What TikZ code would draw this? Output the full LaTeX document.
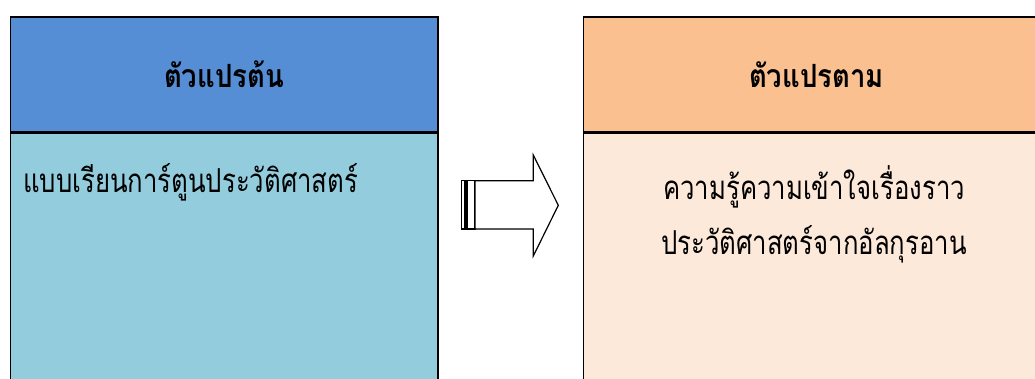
\documentclass[tikz,border=0pt]{standalone}
\usepackage{fontspec}
\newfontfamily\thaifont[Script=Thai, FakeStretch=0.78]{Loma}
\newfontfamily\thaihead[Script=Thai, FakeStretch=0.86]{Loma}
\usetikzlibrary{positioning}
\definecolor{headblue}{RGB}{85,142,213}
\definecolor{bodyblue}{RGB}{147,205,221}
\definecolor{headorange}{RGB}{250,192,144}
\definecolor{bodyorange}{RGB}{253,233,217}
\tikzset{
every node/.style={font=\thaifont\fontsize{33}{38}\selectfont}, % Thai text everywhere
headbox/.style={draw, line width=1.6pt, inner sep=0pt, minimum height=115pt, font=\thaihead\bfseries\fontsize{32}{38}\selectfont}, % coloured title cell
bodybox/.style={draw, line width=1.6pt, inner sep=0pt, minimum height=270pt}, % cell below the title
blockarrow/.style={draw, line width=1.2pt, fill=white}, % striped arrow in the middle
}

\begin{document}
\begin{tikzpicture}[x=1pt, y=-1pt]
        \useasboundingbox (0,0) rectangle (1035,378);
        \clip (0,0) rectangle (1035,378);

        \node[headbox, fill=headblue, minimum width=427.5pt, anchor=north west] (indephead) at (9.5,16) {ตัวแปรต้น};
        \node[bodybox, fill=bodyblue, minimum width=427.5pt, below=0pt of indephead] (indepbody) {};
        \node[headbox, fill=headorange, minimum width=466pt, right=144pt of indephead] (dephead) {ตัวแปรตาม};
        \node[bodybox, fill=bodyorange, minimum width=466pt, below=0pt of dephead] (depbody) {};

        \node[anchor=base west, inner sep=0pt] (indeptext) at (23,192) {แบบเรียนการ์ตูนประวัติศาสตร์};
        \node[anchor=base] (deptexta) at (814,199) {ความรู้ความเข้าใจเรื่องราว};
        \node[anchor=base] (deptextb) at (814,254) {ประวัติศาสตร์จากอัลกุรอาน};

        % striped arrow
        \draw[blockarrow] (461.7,180.7) rectangle (465,229);
        \draw[blockarrow] (467,180.7) rectangle (475,229);
        \draw[blockarrow] (475,180.7) -- (533.3,180.7) -- (533.3,155) -- (558.3,205.3)
            -- (533.3,256) -- (533.3,229) -- (475,229) -- cycle;
    \end{tikzpicture}
\end{document}
